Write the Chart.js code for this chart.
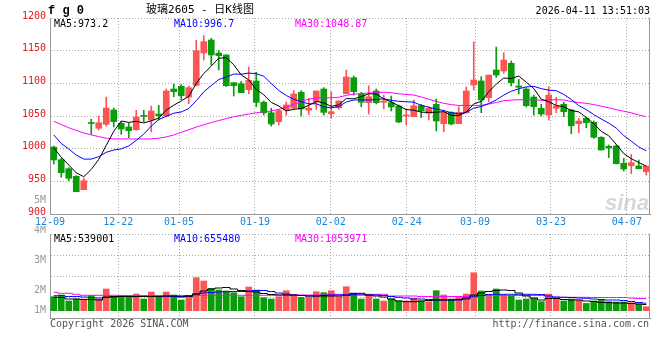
<!DOCTYPE html>
<html><head><meta charset="utf-8">
<script src="https://cdn.jsdelivr.net/npm/chart.js@4.4.1/dist/chart.umd.min.js"></script>
<style>
html,body{margin:0;padding:0;background:#fff;width:660px;height:360px;overflow:hidden}
canvas{position:absolute;left:0}
#pc{top:0}
#vc{top:226px}
</style></head><body>
<canvas id="pc" width="660" height="226"></canvas>
<canvas id="vc" width="660" height="134"></canvas>
<script>
// ---------------- data ----------------
const symbol = 'f g 0';
const title = '玻璃2605 - 日K线图';
const stamp = '2026-04-11 13:51:03';

const dates = ['12-09','12-10','12-11','12-12','12-15','12-16','12-17','12-18','12-19','12-22','12-23','12-24','12-25','12-26','12-29','12-30','12-31',
'01-05','01-06','01-07','01-08','01-09','01-12','01-13','01-14','01-15','01-16','01-19','01-20','01-21','01-22','01-23','01-26','01-27','01-28','01-29','01-30',
'02-02','02-03','02-04','02-05','02-06','02-09','02-10','02-11','02-12','02-13','02-24','02-25','02-26','02-27',
'03-02','03-03','03-04','03-05','03-06','03-09','03-10','03-11','03-12','03-13','03-16','03-17','03-18','03-19','03-20','03-23','03-24','03-25','03-26','03-27','03-30','03-31',
'04-01','04-02','04-03','04-07','04-08','04-09','04-10'];

const dateTicks = ['12-09','12-22','01-05','01-19','02-02','02-24','03-09','03-23','04-07'];
const priceTicks = [900,950,1000,1050,1100,1150,1200];
const volTickLabels = ['5M','4M','3M','2M','1M'];

const opens = [1002.5,983.1,969.3,957.7,937.2,1039,1031.2,1037.3,1059.2,1038.8,
1033.2,1029,1050.5,1043.9,1053,1050,1091.3,1095.5,1079,1097,
1146.4,1166.3,1146.4,1143.4,1101,1099.4,1090.3,1103.6,1071,1055,
1041.3,1059.2,1062.3,1086.3,1059,1072,1091.3,1053.5,1062.7,1084.1,
1108.6,1083.2,1070.4,1088.3,1071,1070.4,1065.3,1050,1049,1065.8,
1054.1,1067.9,1038.2,1055.6,1038.2,1055,1097.4,1103.6,1078,1120.4,
1118.9,1130.7,1096,1091.3,1079,1061.8,1051.5,1061.8,1067.9,1059.2,
1038.2,1046.5,1040.3,1017.4,1003.6,1004,977.6,973.9,973.5,964.7];

const highs = [1004,985.3,970.9,958.7,954.6,1045,1050,1079,1062.2,1041.3,
1038.8,1058.7,1058.7,1065.3,1066.4,1091.3,1099,1097.9,1095.9,1165.8,
1172.9,1168.9,1150,1144,1101,1103,1125,1116.9,1073,1061.8,
1060.2,1071.5,1088.8,1088.8,1077,1088.3,1093.3,1087.2,1073,1120.4,
1111.2,1086.3,1096.4,1091.3,1082.1,1080.6,1066.9,1060.2,1074.5,1067.9,
1064.2,1076,1059.2,1056.6,1064.2,1094.4,1163.7,1110.2,1112.7,1155.6,
1146.9,1134.2,1106.2,1093.3,1082.1,1067.9,1094.8,1078.6,1071,1060.2,
1046.5,1048.5,1042.3,1018.4,1005.6,1005.6,985.3,991.3,982.7,973.5];

const lows = [976.5,956.2,951,934.1,937.2,1022,1028.6,1034.7,1033.2,1022,
1016.8,1028,1041.3,1026,1043.9,1049,1079.5,1074.9,1068.8,1096,
1135.7,1128,1120.4,1095,1080.6,1085.7,1084,1064.2,1051.5,1034.7,
1036.2,1051,1059.8,1050,1052,1060.2,1051.5,1046.5,1060.2,1084.1,
1082.1,1064.2,1053,1068.4,1060.7,1057.7,1039.7,1036.2,1049,1047.4,
1043.9,1027,1026,1036.2,1038.2,1054.1,1089.8,1055,1071.9,1109.2,
1115.3,1095.9,1083.7,1063.8,1051.5,1050,1043.9,1055,1048.9,1022.9,
1024.4,1032.1,1015.8,998,986.2,976.5,965.8,961.7,969.3,959.7];

const closes = [982.7,963.2,954.6,934.1,951,1038.5,1039.7,1062.2,1041.3,1030.1,
1027.5,1048.5,1049.5,1057.7,1050.5,1088.3,1087.2,1081.1,1093.3,1150,
1163.7,1143.4,1142.3,1096.4,1096.4,1085.7,1104.6,1071,1055,1037.8,
1058.1,1066.9,1083.7,1060.8,1062,1088.3,1055.6,1056.6,1073,1109.7,
1087.2,1071,1079.5,1070.4,1073,1063.8,1040.8,1051,1065.8,1058.1,
1061.8,1042.3,1055.6,1037.8,1055.6,1088.3,1105.1,1074.5,1112.7,1112.7,
1135.7,1101,1094,1065.8,1064.2,1053,1082.1,1065.3,1056.6,1035.1,
1042.3,1039.7,1017.4,998,1001,977,968.9,978.5,969.3,973.5];

const ma5 = [1001,987,975,963,957.1,968.3,983.6,1005.1,1026.5,1042.4,
1040.2,1041.9,1039.4,1042.7,1046.7,1058.9,1066.6,1073.0,1080.1,1100.0,
1115.1,1126.3,1138.5,1139.2,1128.4,1112.8,1105.1,1090.8,1082.5,1070.8,
1065.3,1057.8,1060.3,1061.5,1066.3,1072.3,1070.1,1064.7,1067.1,1076.6,
1076.4,1079.5,1084.1,1083.6,1076.2,1071.5,1065.5,1059.8,1058.9,1055.9,
1055.5,1055.8,1056.7,1051.1,1050.6,1055.9,1068.5,1072.3,1087.2,1098.7,
1108.1,1107.3,1111.2,1101.8,1092.1,1075.6,1071.8,1066.1,1064.2,1058.4,
1056.3,1047.8,1038.2,1026.5,1019.7,1006.6,992.5,984.7,978.9,973.2];

const ma10 = [1021,1008,999.5,990.3,984,984,987.8,994.4,998,999.7,
1004.2,1012.8,1022.2,1034.6,1044.6,1049.5,1054.3,1056.2,1061.4,1073.4,
1087.0,1096.5,1105.8,1109.6,1114.2,1114.0,1115.7,1114.7,1110.9,1099.6,
1089.1,1081.4,1075.6,1072.0,1068.6,1068.8,1063.9,1062.5,1064.3,1071.5,
1074.4,1074.8,1074.4,1075.3,1076.4,1074.0,1072.5,1071.9,1071.2,1066.1,
1063.5,1060.7,1058.3,1055.0,1053.3,1055.7,1062.1,1064.5,1069.2,1074.6,
1082.0,1087.9,1091.7,1094.5,1095.4,1091.9,1089.6,1088.7,1083.0,1075.3,
1065.9,1059.8,1052.2,1045.4,1039.1,1031.5,1020.1,1011.5,1002.7,996.7];

const ma30 = [1042,1037,1032,1028,1024,1021,1018.5,1016,1015,1015,
1014.8,1014.8,1014.8,1015,1016,1018,1021,1025,1029,1033,
1036.5,1040,1043,1046,1049,1051,1053,1055,1056.5,1057.6,
1060.1,1063.5,1067.9,1072.1,1075.8,1077.4,1078.0,1077.8,1078.8,1081.5,
1083.5,1084.2,1085.2,1085.7,1086.4,1085.6,1084.0,1083.0,1082.1,1079.1,
1075.7,1072.3,1069.4,1067.4,1066.1,1066.2,1066.2,1066.3,1068.2,1070.7,
1073.3,1074.4,1074.8,1075.0,1075.0,1073.9,1074.7,1075.0,1074.5,1072.0,
1070.5,1069.5,1067.4,1065.0,1062.6,1059.7,1057.3,1054.9,1051.6,1048.87];

const volumes = [1218000,1366000,844000,1018000,1018000,1305000,1018000,1888000,1218000,1157000,
1157000,1453000,1018000,1627000,1218000,1627000,1366000,931000,1157000,2871000,
2584000,1940000,1801000,1714000,1566000,1218000,2062000,1801000,1131000,1018000,
1218000,1740000,1366000,1157000,1157000,1653000,1566000,1740000,1218000,2088000,
1505000,1018000,1366000,1018000,844000,1018000,844000,844000,1070000,844000,
783000,1740000,1366000,1018000,1218000,1453000,3306000,1714000,1366000,1888000,
1366000,1305000,931000,1018000,1070000,783000,1453000,1070000,844000,1018000,
931000,635000,844000,931000,783000,757000,757000,696000,583000,348000];

const vma5 = [1166000,1148000,1018000,1018000,974000,974000,931000,1192000,1235000,1235000,
1235000,1235000,1235000,1235000,1235000,1279000,1279000,1192000,1235000,1453000,
1714000,1888000,1975000,2018000,1888000,1757000,1670000,1627000,1496000,1409000,
1366000,1366000,1366000,1322000,1279000,1279000,1279000,1279000,1279000,1322000,
1514000,1514000,1366000,1279000,1192000,1018000,844000,783000,783000,844000,
887000,931000,931000,931000,974000,1105000,1366000,1540000,1670000,1757000,
1801000,1757000,1540000,1279000,1105000,931000,1061000,1061000,974000,931000,
931000,844000,800000,713000,696000,670000,670000,626000,583000,539001];

const vma10 = [1305000,1305000,1235000,1235000,1192000,1148000,1105000,1148000,1192000,1235000,
1235000,1235000,1235000,1235000,1235000,1235000,1235000,1235000,1322000,1453000,
1540000,1583000,1627000,1653000,1670000,1670000,1714000,1757000,1757000,1670000,
1540000,1453000,1366000,1322000,1279000,1279000,1322000,1366000,1366000,1392000,
1392000,1366000,1366000,1366000,1322000,1235000,1166000,1105000,1018000,1018000,
974000,931000,931000,931000,931000,1018000,1218000,1322000,1409000,1427000,
1427000,1427000,1427000,1427000,1427000,1409000,1279000,1192000,1166000,1148000,
1105000,1079000,1018000,974000,931000,931000,887000,800000,713000,655480];

const vma30 = [1601000,1514000,1514000,1427000,1340000,1340000,1340000,1340000,1340000,1322000,
1322000,1322000,1322000,1322000,1322000,1322000,1322000,1322000,1322000,1322000,
1340000,1340000,1340000,1340000,1340000,1340000,1340000,1340000,1340000,1340000,
1366000,1366000,1366000,1366000,1366000,1366000,1366000,1427000,1427000,1427000,
1427000,1427000,1427000,1427000,1427000,1279000,1279000,1279000,1279000,1235000,
1235000,1235000,1235000,1235000,1235000,1235000,1322000,1322000,1322000,1322000,
1322000,1322000,1322000,1322000,1322000,1322000,1166000,1166000,1166000,1166000,
1166000,1166000,1148000,1148000,1148000,1148000,1148000,1105000,1061000,1053971];

// ---------------- style ----------------
const RED = '#fb5656', GREEN = '#0b9c0b';
const GRID = '#aaaaaa', FRAME = '#999999';
const PRICE_C = '#e01818', DATE_C = '#1b86d6', VOL_C = '#9a9a9a';
const MONO = '"DejaVu Sans Mono", monospace';
const gridSpan = 79.05;           // gridline spacing of the date axis (per trading day)
const volMin = -635000, volMax = 6673000;

Chart.defaults.font.family = MONO;
Chart.defaults.font.size = 10;
Chart.defaults.animation = false;
Chart.defaults.events = [];

const candleColor = closes.map((c, i) => c >= opens[i] ? RED : GREEN);
const tickIdx = dateTicks.map(d => dates.indexOf(d));
const last = a => a[a.length - 1];

function lineDs(label, data, color, extra) {
  return Object.assign({type:'line', label, data, borderColor:color, borderWidth:1,
    pointRadius:0, tension:0, fill:false, order:0}, extra || {});
}
function dateAxis(showLabels, h) {
  return {
    type:'linear', position:'bottom', min:0, max:gridSpan, offset:false,
    afterBuildTicks: s => { s.ticks = tickIdx.map(v => ({value:v})); },
    ticks:{display:showLabels, autoSkip:false, maxRotation:0, color:DATE_C, padding:2,
      callback: v => dates[v]},
    grid:{color:GRID, drawTicks:false, lineWidth:1, offset:false},
    border:{color:FRAME, dash:[1,2]},
    afterFit: s => { s.height = h; }
  };
}
function rightFrame(chart) {
  const {ctx, chartArea:a} = chart;
  ctx.save();
  ctx.strokeStyle = FRAME; ctx.lineWidth = 1;
  ctx.beginPath(); ctx.moveTo(Math.round(a.right) - 0.5, a.top); ctx.lineTo(Math.round(a.right) - 0.5, a.bottom); ctx.stroke();
  ctx.restore();
}

// ---------------- price chart ----------------
const priceText = {
  id:'priceText',
  afterDraw(chart) {
    const {ctx, chartArea:a} = chart;
    rightFrame(chart);
    ctx.save();
    ctx.textBaseline = 'middle';
    ctx.fillStyle = '#000';
    ctx.font = 'bold 12px "Liberation Mono", monospace';
    ctx.textAlign = 'left';
    ctx.fillText(symbol, a.left - 2, 11);
    ctx.font = '11px "DejaVu Sans Mono", "Noto Sans CJK SC", sans-serif';
    ctx.textAlign = 'center';
    ctx.fillText(title, 200, 10.5);
    ctx.font = '10px ' + MONO;
    ctx.textAlign = 'right';
    ctx.fillText(stamp, a.right, 11.5);
    ctx.textAlign = 'left';
    ctx.fillStyle = '#000'; ctx.fillText('MA5:' + last(ma5), a.left + 4, a.top + 6);
    ctx.fillStyle = '#0000ff'; ctx.fillText('MA10:' + last(ma10), a.left + 124, a.top + 6);
    ctx.fillStyle = '#ff00ff'; ctx.fillText('MA30:' + last(ma30), a.left + 245, a.top + 6);
    ctx.textAlign = 'right';
    ctx.fillStyle = VOL_C;
    ctx.fillText(volTickLabels[0], a.left - 4, a.bottom - 13.5);
    // watermark
    ctx.font = 'italic bold 22px "Liberation Sans", sans-serif';
    ctx.fillStyle = 'rgba(175,175,175,0.5)';
    ctx.textBaseline = 'alphabetic';
    ctx.fillText('sina', a.right - 1, a.bottom - 4);
    ctx.restore();
  }
};

new Chart(document.getElementById('pc'), {
  type:'bar',
  data:{
    labels: dates,
    datasets:[
      lineDs('MA5', ma5, '#000000'),
      lineDs('MA10', ma10, '#0000ff'),
      lineDs('MA30', ma30, '#ff00ff'),
      {label:'body', data: opens.map((o, i) => [o, closes[i]]), backgroundColor:candleColor,
        barThickness:6, minBarLength:1, grouped:false, order:1},
      {label:'wick', data: lows.map((l, i) => [l, highs[i]]), backgroundColor:candleColor,
        barThickness:1, grouped:false, order:2}
    ]
  },
  options:{
    responsive:false, devicePixelRatio:1,
    layout:{padding:{left:0, right:10, top:18, bottom:0}},
    plugins:{legend:{display:false}, tooltip:{enabled:false}},
    scales:{
      x:{type:'category', display:false, offset:true},
      xg: dateAxis(true, 12),
      y:{type:'linear', min:900, max:1200,
        afterBuildTicks: s => { s.ticks = priceTicks.map(v => ({value:v})); },
        ticks:{color:PRICE_C, padding:4, labelOffset:-2, callback: v => String(v)},
        grid:{color:GRID, drawTicks:false},
        border:{color:FRAME, dash:[1,2]},
        afterFit: s => { s.width = 50; }}
    }
  },
  plugins:[priceText]
});

// ---------------- volume chart ----------------
const volText = {
  id:'volText',
  afterDraw(chart) {
    const {ctx, chartArea:a} = chart;
    rightFrame(chart);
    ctx.save();
    ctx.font = '10px ' + MONO;
    ctx.textBaseline = 'middle';
    ctx.textAlign = 'right';
    ctx.fillStyle = VOL_C;
    ctx.fillText(volTickLabels[1], a.left - 4, a.top - 4);
    ctx.fillText(volTickLabels[2], a.left - 4, a.top + 26.3);
    ctx.fillText(volTickLabels[3], a.left - 4, a.top + 56.3);
    ctx.fillText(volTickLabels[4], a.left - 4, a.bottom - 8);
    ctx.textAlign = 'left';
    ctx.fillStyle = '#000'; ctx.fillText('MA5:' + last(vma5), a.left + 4, a.top + 5);
    ctx.fillStyle = '#0000ff'; ctx.fillText('MA10:' + last(vma10), a.left + 124, a.top + 5);
    ctx.fillStyle = '#ff00ff'; ctx.fillText('MA30:' + last(vma30), a.left + 245, a.top + 5);
    ctx.fillStyle = '#555';
    ctx.fillText('Copyright 2026 SINA.COM', a.left, a.bottom + 6);
    ctx.textAlign = 'right';
    ctx.fillText('http://finance.sina.com.cn', a.right - 1, a.bottom + 6);
    ctx.restore();
  }
};

new Chart(document.getElementById('vc'), {
  type:'bar',
  data:{
    labels: dates,
    datasets:[
      lineDs('VMA5', vma5, '#000000', {stepped:'middle'}),
      lineDs('VMA10', vma10, '#0000ff', {stepped:'middle'}),
      lineDs('VMA30', vma30, '#ff00ff', {stepped:'middle'}),
      {label:'volume', data: volumes, backgroundColor:candleColor, barThickness:6, grouped:false, order:1}
    ]
  },
  options:{
    responsive:false, devicePixelRatio:1,
    layout:{padding:{left:0, right:10, top:8, bottom:42}},
    plugins:{legend:{display:false}, tooltip:{enabled:false}},
    scales:{
      x:{type:'category', display:false, offset:true},
      xg: dateAxis(false, 0),
      y:{type:'linear', min:volMin, max:volMax,
        afterBuildTicks: s => { s.ticks = [0,1,2,3,4].map(j => ({value: volMin + j * (volMax - volMin) / 4})); },
        ticks:{display:false},
        grid:{color:GRID, drawTicks:false},
        border:{color:FRAME, dash:[1,2]},
        afterFit: s => { s.width = 50; }}
    }
  },
  plugins:[volText]
});
</script>
</body></html>
